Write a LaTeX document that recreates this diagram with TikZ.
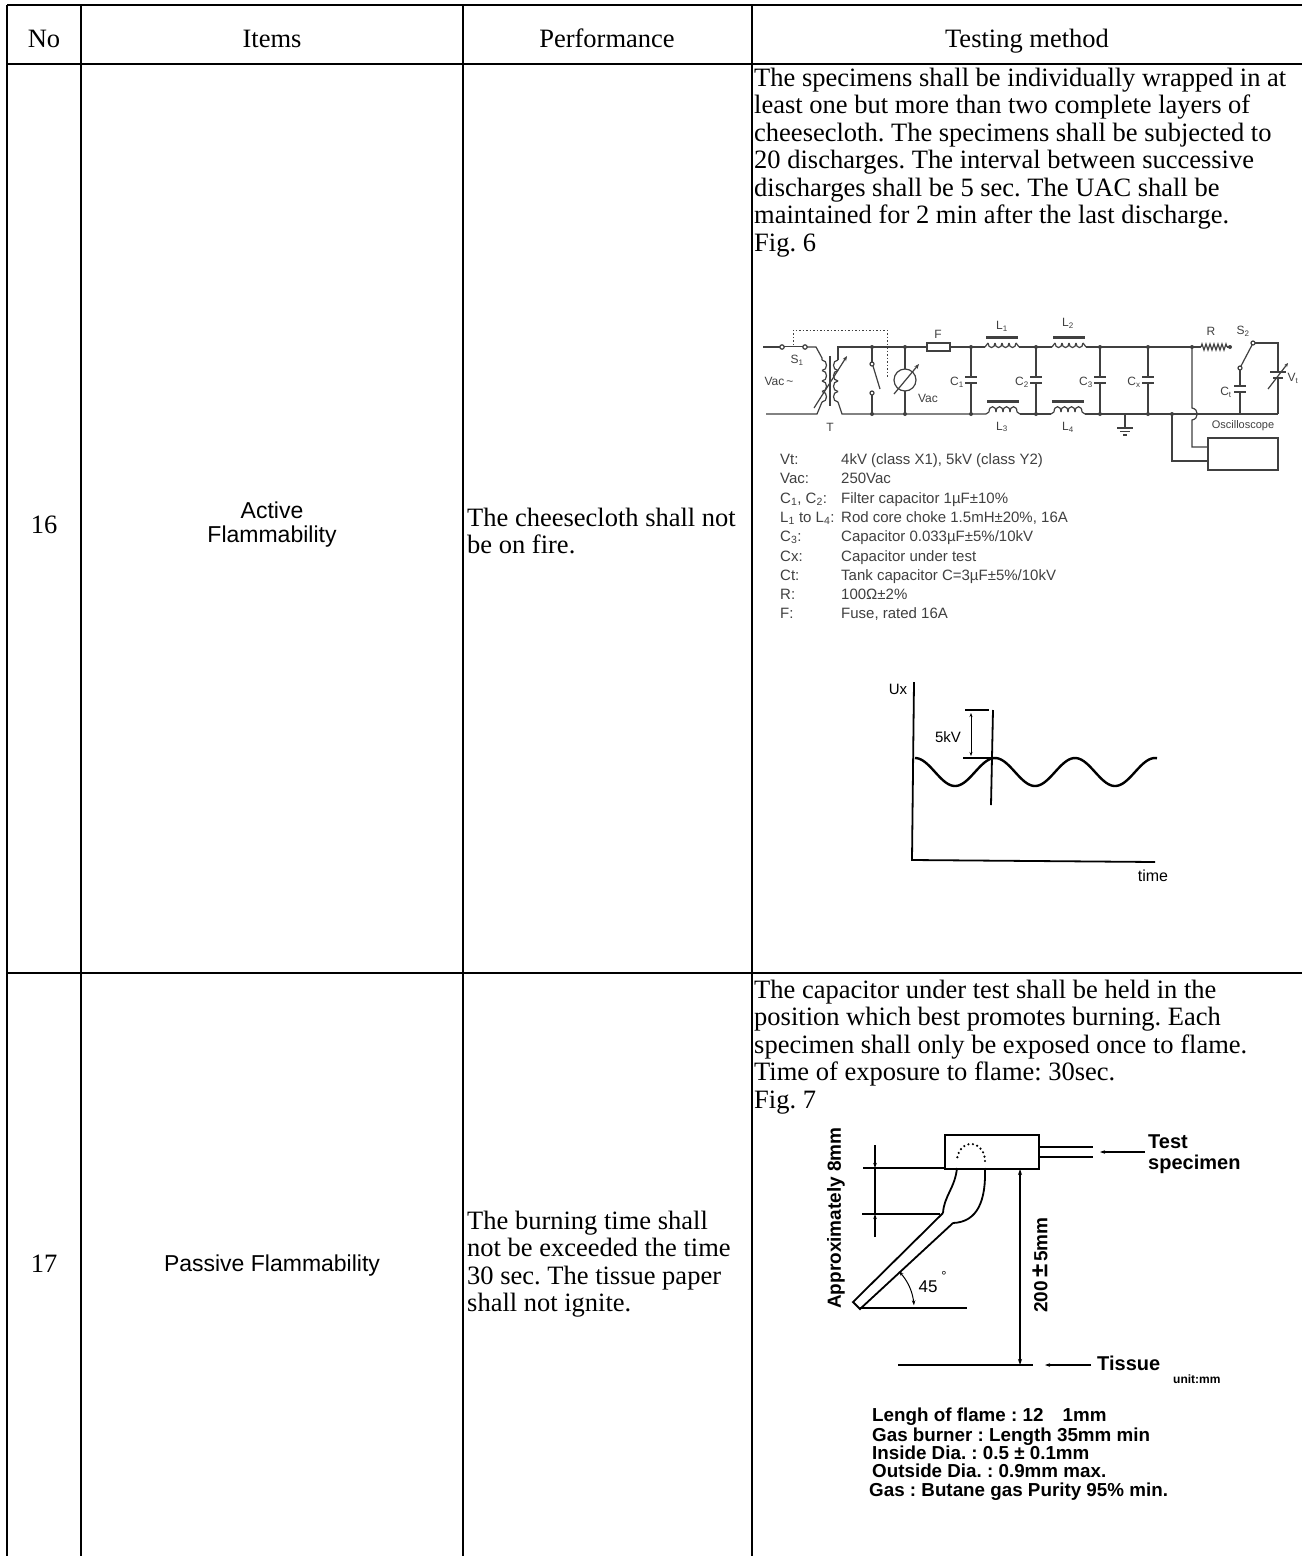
\documentclass[tikz,border=0pt]{standalone}
\usepackage{fontspec}
\setmainfont{Liberation Serif}
\setsansfont{Liberation Sans}
\usetikzlibrary{arrows.meta,decorations.pathmorphing}
\begin{document}
\frenchspacing
\begin{tikzpicture}[x=1pt,y=-1pt,
 tbl/.style={line width=2pt},
 ser/.style={font=\fontsize{26.5}{27.5}\selectfont, inner sep=0pt, anchor=base west},
 serc/.style={font=\fontsize{26.5}{27.5}\selectfont, inner sep=0pt, anchor=base},
 sansc/.style={font=\sffamily\fontsize{23}{24}\selectfont, inner sep=0pt, anchor=base},
 wire/.style={line width=1.2pt, draw=black!75},
 lgd/.style={font=\sffamily\fontsize{15}{16}\selectfont, text=black!75, inner sep=0pt, anchor=base west},
 clab/.style={font=\sffamily\fontsize{12}{12}\selectfont, text=black!75, inner sep=0pt},
 jdot/.style={circle, fill=black!75, inner sep=0pt, minimum size=4pt},
 fig/.style={line width=1.8pt},
 bsans/.style={font=\sffamily\bfseries\fontsize{19}{20}\selectfont, inner sep=0pt},
 bsm/.style={font=\sffamily\bfseries\fontsize{18.8}{19}\selectfont, inner sep=0pt, anchor=base west},
 nsans/.style={font=\sffamily\fontsize{16}{17}\selectfont, inner sep=0pt},
 dimarr/.style={line width=1pt, -{Stealth[length=5pt,width=3.5pt]}},
]
\useasboundingbox (0,0) rectangle (1302,1556);
\fill[white] (0,0) rectangle (1302,1556);

% ---------------- table grid ----------------
\draw[tbl] (7,5) -- (1302,5);
\draw[tbl] (7,64) -- (1302,64);
\draw[tbl] (7,973) -- (1302,973);
\foreach \xx in {7,81,463,752} \draw[tbl] (\xx,5) -- (\xx,1556);

% header
\node[serc] (hNo) at (44,47) {No};
\node[serc] (hIt) at (272,47) {Items};
\node[serc] (hPe) at (607,47) {Performance};
\node[serc] (hTe) at (1027,47) {Testing method};

% row 16
\node[serc] (n16) at (44,533) {16};
\node[sansc] (it16a) at (272,518) {Active};
\node[sansc] (it16b) at (272,542) {Flammability};
\node[ser] (pe16a) at (467,526) {The cheesecloth shall not};
\node[ser] (pe16b) at (467,553.5) {be on fire.};
\node[ser] (t16a) at (754,86) {The specimens shall be individually wrapped in at};
\node[ser] (t16b) at (754,113.5) {least one but more than two complete layers of};
\node[ser] (t16c) at (754,141) {cheesecloth. The specimens shall be subjected to};
\node[ser] (t16d) at (754,168.5) {20 discharges. The interval between successive};
\node[ser] (t16e) at (754,196) {discharges shall be 5 sec. The UAC shall be};
\node[ser] (t16f) at (754,223.5) {maintained for 2 min after the last discharge.};
\node[ser] (t16g) at (754,251) {Fig. 6};

% row 17
\node[serc] (n17) at (44,1272) {17};
\node[sansc] (it17) at (272,1271) {Passive Flammability};
\node[ser] (pe17a) at (467,1229) {The burning time shall};
\node[ser] (pe17b) at (467,1256.5) {not be exceeded the time};
\node[ser] (pe17c) at (467,1284) {30 sec. The tissue paper};
\node[ser] (pe17d) at (467,1311.5) {shall not ignite.};
\node[ser] (t17a) at (754,998) {The capacitor under test shall be held in the};
\node[ser] (t17b) at (754,1025.5) {position which best promotes burning. Each};
\node[ser] (t17c) at (754,1053) {specimen shall only be exposed once to flame.};
\node[ser] (t17d) at (754,1080.5) {Time of exposure to flame: 30sec.};
\node[ser] (t17e) at (754,1108) {Fig. 7};

% ---------------- circuit (Fig. 6) ----------------
\draw[wire] (763,347) -- (780,347);
\draw[wire] (782,347) circle[radius=2.2];
\draw[wire] (805,347) circle[radius=2.2];
\draw[wire] (784,346.5) -- (803,346.5);
\draw[wire] (807,347) -- (816,347) -- (822,358) -- (822,360);
\draw[wire] (838,360) -- (838,347) -- (985,347);
\draw[wire] (1019,347) -- (1052,347);
\draw[wire] (1086,347) -- (1201,347);
\draw[line width=1pt, black!75, dash pattern=on 1.5pt off 2pt] (793,345) -- (793,330) -- (887,330) -- (887,378);
\foreach \k in {0,1,2,3} {
  \draw[wire] (822,{360+10.5*\k}) .. controls (828,{360+10.5*\k}) and (828,{370.5+10.5*\k}) .. (822,{370.5+10.5*\k});
  \draw[wire] (838,{360+10.5*\k}) .. controls (832,{360+10.5*\k}) and (832,{370.5+10.5*\k}) .. (838,{370.5+10.5*\k});
}
\draw[line width=1.6pt, black!75] (830,356) -- (830,406);
\draw[wire, -{Stealth[length=5pt,width=4pt]}] (814,408) -- (847,356);
\draw[wire] (766,414) -- (817,414) -- (822,402);
\draw[wire] (838,402) -- (842,414) -- (986,414);
\draw[wire] (1020,414) -- (1051,414);
\draw[wire] (1085,414) -- (1278,414);
\draw[wire] (872,347) -- (872,362);
\draw[wire] (872,364) circle[radius=2];
\draw[wire] (872,393) circle[radius=2];
\draw[wire] (873,366) -- (880,389);
\draw[wire] (872,395) -- (872,414);
\draw[wire] (905,347) -- (905,369);
\draw[wire] (905,380) circle[radius=11];
\draw[wire] (905,391) -- (905,414);
\draw[wire, -{Stealth[length=5pt,width=4pt]}] (894,394) -- (919,364);
\draw[wire, fill=white] (927,343) rectangle (950,351);
\foreach \cx/\ty in {971/377, 1036/377, 1100/377, 1148/377} {
  \draw[wire] (\cx,347) -- (\cx,\ty);
  \draw[wire] (\cx-6,\ty) -- (\cx+6,\ty);
  \draw[wire] (\cx-6,\ty+6) -- (\cx+6,\ty+6);
  \draw[wire] (\cx,\ty+6) -- (\cx,414);
}
\foreach \ix in {985,1052} {
\begin{scope}[shift={(\ix,0)}]
  \draw[wire] (0,347) -- (3,343);
  \foreach \k in {0,1,2,3}
    \draw[wire] ({3+7*\k},343) .. controls ({3+7*\k},349) and ({10+7*\k},349) .. ({10+7*\k},343);
  \draw[wire] (31,343) -- (34,347);
  \draw[line width=2.6pt, black!75] (1,337.5) -- (33,337.5);
\end{scope}
}
\foreach \ix in {986,1051} {
\begin{scope}[shift={(\ix,0)}]
  \draw[wire] (0,414) -- (3,412);
  \foreach \k in {0,1,2,3}
    \draw[wire] ({3+7*\k},412) .. controls ({3+7*\k},405) and ({10+7*\k},405) .. ({10+7*\k},412);
  \draw[wire] (31,412) -- (34,414);
  \draw[line width=2.6pt, black!75] (1,401.5) -- (33,401.5);
\end{scope}
}
\draw[wire] (1125,414) -- (1125,428);
\draw[wire] (1117,428) -- (1133,428);
\draw[wire] (1120,431.5) -- (1130,431.5);
\draw[wire] (1123,435) -- (1127,435);
\foreach \jx in {872,905,971,1036,1100,1148,1192} \node[jdot] at (\jx,347) {};
\foreach \jx in {872,905,971,1036,1100,1148,1172} \node[jdot] at (\jx,414) {};
\draw[wire] (1192,347) -- (1192,408) .. controls (1199,409) and (1199,419) .. (1192,420) -- (1192,447) -- (1208,447);
\draw[wire] (1172,414) -- (1172,461) -- (1208,461);
\draw[wire] (1208,438) rectangle (1278,470);
\node[clab, font=\sffamily\fontsize{11}{11}\selectfont] (osc) at (1243,426) {Oscilloscope};
\draw[wire, decorate, decoration={zigzag, segment length=4pt, amplitude=3pt}] (1201,347) -- (1227,347);
\draw[wire] (1227,347) -- (1229,347);
\node[jdot] at (1230,347) {};
\draw[wire] (1240,368) circle[radius=2];
\draw[wire] (1253,343) circle[radius=2];
\draw[wire] (1241,366) -- (1252,345);
\draw[wire] (1255,343) -- (1278,343) -- (1278,372);
\draw[wire] (1240,370) -- (1240,386);
\draw[wire] (1234,386) -- (1246,386);
\draw[wire] (1234,392) -- (1246,392);
\draw[wire] (1240,392) -- (1240,414);
\draw[wire] (1270,372) -- (1286,372);
\draw[line width=2.2pt, black!75] (1273,378) -- (1283,378);
\draw[wire] (1278,378) -- (1278,414);
\draw[wire, -{Stealth[length=4pt,width=3.5pt]}] (1268,389) -- (1288,363);
\node[clab] (lS1) at (797,360) {S\textsubscript{1}};
\node[clab] (lVac) at (779,381) {Vac\,\textasciitilde};
\node[clab] (lT) at (830,427) {T};
\node[clab] (lF) at (938,334) {F};
\node[clab] (lVac2) at (928,398) {Vac};
\node[clab] (lC1) at (957,382) {C\textsubscript{1}};
\node[clab] (lC2) at (1022,382) {C\textsubscript{2}};
\node[clab] (lC3) at (1086,382) {C\textsubscript{3}};
\node[clab] (lCx) at (1134,382) {C\textsubscript{x}};
\node[clab] (lCt) at (1226,392) {C\textsubscript{t}};
\node[clab] (lL1) at (1002,326) {L\textsubscript{1}};
\node[clab] (lL2) at (1068,323) {L\textsubscript{2}};
\node[clab] (lL3) at (1002,427) {L\textsubscript{3}};
\node[clab] (lL4) at (1068,427) {L\textsubscript{4}};
\node[clab] (lR) at (1211,331) {R};
\node[clab] (lS2) at (1243,331) {S\textsubscript{2}};
\node[clab] (lVt) at (1293,378) {V\textsubscript{t}};

% legend
\node[lgd] (g1a) at (780,464) {Vt:};
\node[lgd] (g1b) at (841,464) {4kV (class X1), 5kV (class Y2)};
\node[lgd] (g2a) at (780,483) {Vac:};
\node[lgd] (g2b) at (841,483) {250Vac};
\node[lgd] (g3a) at (780,503) {C\textsubscript{1}, C\textsubscript{2}:};
\node[lgd] (g3b) at (841,503) {Filter capacitor 1µF±10\%};
\node[lgd] (g4a) at (780,522) {L\textsubscript{1} to L\textsubscript{4}:};
\node[lgd] (g4b) at (841,522) {Rod core choke 1.5mH±20\%, 16A};
\node[lgd] (g5a) at (780,541) {C\textsubscript{3}:};
\node[lgd] (g5b) at (841,541) {Capacitor 0.033µF±5\%/10kV};
\node[lgd] (g6a) at (780,561) {Cx:};
\node[lgd] (g6b) at (841,561) {Capacitor under test};
\node[lgd] (g7a) at (780,580) {Ct:};
\node[lgd] (g7b) at (841,580) {Tank capacitor C=3µF±5\%/10kV};
\node[lgd] (g8a) at (780,599) {R:};
\node[lgd] (g8b) at (841,599) {100Ω±2\%};
\node[lgd] (g9a) at (780,618) {F:};
\node[lgd] (g9b) at (841,618) {Fuse, rated 16A};

% ---------------- waveform ----------------
\coordinate (ytop) at (914,682);
\coordinate (orig) at (912,860);
\coordinate (xend) at (1155,862);
\draw[line width=1.8pt] (ytop) -- (orig) -- (xend);
\draw[line width=2.4pt, domain=915:1157, samples=120, smooth] plot (\x, {772-14*cos(4.5*(\x-915))});
\draw[line width=1.8pt] (993,710) -- (991,805);
\draw[line width=1.8pt] (965,710) -- (989,710);
\draw[line width=1.8pt] (963,758) -- (992,758);
\draw[line width=1pt, {Stealth[length=4pt,width=3pt]}-{Stealth[length=4pt,width=3pt]}] (971,713) -- (971,756);
\node[nsans, font=\sffamily\fontsize{15}{16}\selectfont] (l5kv) at (948,737) {5kV};
\node[nsans, font=\sffamily\fontsize{15}{16}\selectfont] (lUx) at (898,689) {Ux};
\node[nsans] (ltime) at (1153,876) {time};

% ---------------- flame test (Fig. 7) ----------------
\node[fig, draw, minimum width=94pt, minimum height=34pt, inner sep=0pt, anchor=north west] (spec) at (944,1134) {};
\draw[fig] (1038,1147) -- (1093,1147);
\draw[fig] (1038,1157) -- (1093,1157);
\draw[line cap=round, dash pattern=on 0pt off 4.5pt, line width=2.4pt] plot[domain=0:180, samples=30] ({971+14*cos(\x)}, {1161-17*sin(\x)});
\draw[fig] (957,1168) .. controls (955,1188) and (944,1196) .. (943,1213);
\draw[fig] (985,1168) .. controls (986,1200) and (978,1222) .. (953,1223);
\draw[fig] (943,1213) -- (853,1302) -- (860,1309) -- (953,1223);
\draw[fig] (860,1308) -- (967,1308);
\draw[line width=1pt, {Stealth[length=5pt,width=3.5pt]}-{Stealth[length=5pt,width=3.5pt]}] plot[domain=45:3, samples=20] ({862+52*cos(\x)}, {1308-52*sin(\x)});
\node[nsans, font=\sffamily\fontsize{17}{18}\selectfont] (l45) at (928,1287) {45};
\node[nsans, font=\sffamily\fontsize{13}{13}\selectfont] (ldeg) at (944,1276) {°};
\draw[fig] (863,1168) -- (944,1168);
\draw[fig] (862,1214) -- (940,1214);
\draw[line width=1.4pt] (875,1168) -- (875,1214);
\draw[dimarr, line width=1.4pt] (875,1145) -- (875,1168);
\draw[dimarr, line width=1.4pt] (875,1237) -- (875,1214);
\node[bsans, rotate=90] (lapprox) at (836,1218) {Approximately 8mm};
\draw[line width=1.4pt, {Stealth[length=6pt,width=4pt]}-{Stealth[length=6pt,width=4pt]}] (1020,1169) -- (1020,1365);
\node[bsans, rotate=90] (l200) at (1040,1265) {200\,{\fontsize{24}{24}\selectfont ±}\,5mm};
\coordinate (tisL) at (898,1365);
\coordinate (tisR) at (1033,1365);
\draw[fig] (tisL) -- (tisR);
\node[bsans, anchor=base west, font=\sffamily\bfseries\fontsize{20}{20}\selectfont] (ltis) at (1097,1370) {Tissue};
\draw[dimarr, line width=1.6pt] (1091,1365) -- (1045,1365);
\node[bsans, anchor=base west, font=\sffamily\bfseries\fontsize{12}{12}\selectfont] (lunit) at (1173,1383) {unit:mm};
\node[bsans, anchor=base west, font=\sffamily\bfseries\fontsize{20}{20}\selectfont] (ltest) at (1148,1148) {Test};
\node[bsans, anchor=base west, font=\sffamily\bfseries\fontsize{20}{20}\selectfont] (lspec) at (1148,1169) {specimen};
\draw[dimarr, line width=1.6pt] (1145,1152) -- (1100,1152);
\node[bsm] (b1) at (872,1421) {Lengh of flame : 12\hspace{14pt} 1mm};
\node[bsm] (b2) at (872,1441) {Gas burner : Length 35mm min};
\node[bsm] (b3) at (872,1459) {Inside Dia. : 0.5 ± 0.1mm};
\node[bsm] (b4) at (872,1477.5) {Outside Dia. : 0.9mm max.};
\node[bsm] (b5) at (869,1496) {Gas : Butane gas Purity 95\% min.};
\end{tikzpicture}
\end{document}
